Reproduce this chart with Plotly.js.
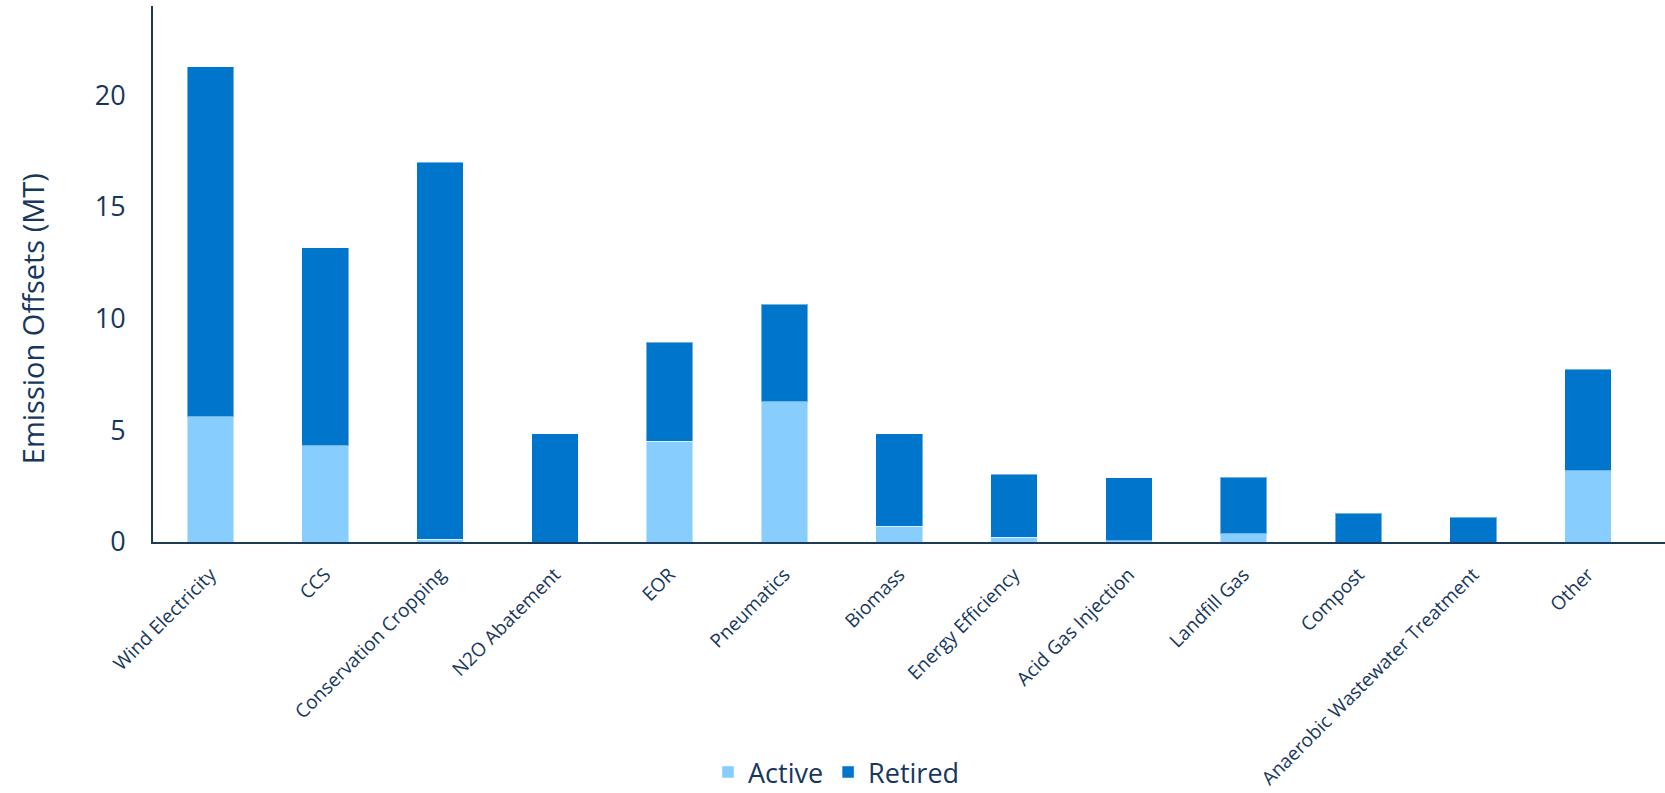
<!DOCTYPE html>
<html>
<head>
<meta charset="utf-8">
<script src="https://cdn.plot.ly/plotly-3.0.1.min.js"></script>
<style>
  html, body { margin: 0; padding: 0; background: #ffffff; }
  #chart { width: 1665px; height: 793px; }
</style>
</head>
<body>
<div id="chart"></div>
<script>
const categories = [
  "Wind Electricity", "CCS", "Conservation Cropping", "N2O Abatement", "EOR",
  "Pneumatics", "Biomass", "Energy Efficiency", "Acid Gas Injection",
  "Landfill Gas", "Compost", "Anaerobic Wastewater Treatment", "Other"
];
const activeValues  = [5.61, 4.30, 0.12, 0.00, 4.52, 6.28, 0.70, 0.21, 0.06, 0.36, 0.00, 0.00, 3.18];
const retiredValues = [15.66, 8.87, 16.88, 4.84, 4.42, 4.37, 4.14, 2.83, 2.81, 2.55, 1.29, 1.11, 4.55];
const yTickValues = [0, 5, 10, 15, 20];
const yTitle = "Emission Offsets (MT)";

const textColor = "#17375E";
const axisColor = "#1B3A5C";
const fontFamily = "'Open Sans', 'Noto Sans', sans-serif";

const traces = [
  {
    type: "bar", name: "Active", x: categories, y: activeValues,
    marker: { color: "#87CDFD", line: { color: "rgba(255,255,255,0.45)", width: 1 } },
    hoverinfo: "x+y+name"
  },
  {
    type: "bar", name: "Retired", x: categories, y: retiredValues,
    marker: { color: "#0075CC", line: { color: "rgba(255,255,255,0.45)", width: 1 } },
    hoverinfo: "x+y+name"
  }
];

const layout = {
  width: 1665, height: 793,
  paper_bgcolor: "#ffffff", plot_bgcolor: "#ffffff",
  barmode: "stack",
  bargap: 0.594,
  margin: { l: 153, r: 0, t: 6, b: 251, pad: 0, autoexpand: false },
  font: { family: fontFamily, color: textColor },
  xaxis: {
    type: "category",
    range: [-0.5, 12.67],
    showline: true, linecolor: axisColor, linewidth: 2,
    ticks: "", showgrid: false, zeroline: false,
    tickangle: -45,
    ticklabelstandoff: 12,
    automargin: false,
    tickfont: { size: 19, color: textColor, family: fontFamily },
    fixedrange: true
  },
  yaxis: {
    range: [0, 24],
    tickvals: yTickValues,
    ticktext: yTickValues.map(String),
    showline: true, linecolor: axisColor, linewidth: 2,
    ticks: "", showgrid: false, zeroline: false,
    automargin: false,
    tickfont: { size: 27, color: textColor, family: fontFamily },
    ticklabelstandoff: 20,
    fixedrange: true
  },
  annotations: [
    {
      text: yTitle, xref: "paper", yref: "paper",
      x: (32 - 153) / 1512, y: (541.7 - 319) / 535.7,
      xanchor: "center", yanchor: "middle",
      textangle: -90, showarrow: false,
      font: { size: 29, color: textColor, family: fontFamily }
    }
  ],
  showlegend: true,
  legend: {
    orientation: "h",
    x: (708 - 153) / 1512, xanchor: "left",
    y: (541.7 - 772) / 535.7, yanchor: "middle",
    font: { size: 27, color: textColor, family: fontFamily },
    traceorder: "normal",
    itemwidth: 30
  }
};

Plotly.newPlot("chart", traces, layout, { displayModeBar: false, responsive: false });
</script>
</body>
</html>
